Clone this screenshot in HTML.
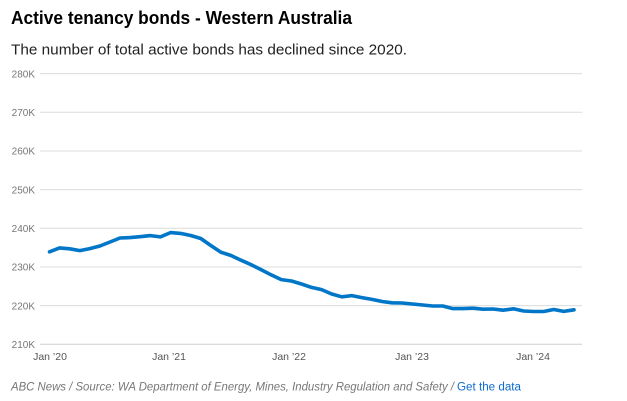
<!DOCTYPE html>
<html>
<head>
<meta charset="utf-8">
<style>
html,body{margin:0;padding:0;background:#fff;}
svg{display:block;}
text{font-family:"Liberation Sans",sans-serif;}
</style>
</head>
<body>
<svg width="627" height="401" viewBox="0 0 627 401" xmlns="http://www.w3.org/2000/svg">
<rect width="627" height="401" fill="#fff"/>
<text x="11" y="24" font-size="18" font-weight="bold" fill="#000" textLength="341" lengthAdjust="spacingAndGlyphs">Active tenancy bonds - Western Australia</text>
<text x="11" y="54.3" font-size="15" fill="#222" textLength="396" lengthAdjust="spacingAndGlyphs">The number of total active bonds has declined since 2020.</text>

<g stroke="#dcdcdc" stroke-width="1">
<line x1="40" y1="73.6" x2="582" y2="73.6"/>
<line x1="40" y1="112.3" x2="582" y2="112.3"/>
<line x1="40" y1="151" x2="582" y2="151"/>
<line x1="40" y1="189.6" x2="582" y2="189.6"/>
<line x1="40" y1="228.3" x2="582" y2="228.3"/>
<line x1="40" y1="267" x2="582" y2="267"/>
<line x1="40" y1="305.6" x2="582" y2="305.6"/>
<line x1="40" y1="344.3" x2="582" y2="344.3" stroke="#cfcfcf"/>
</g>
<g font-size="10" fill="#777" text-anchor="end">
<text x="35" y="77.3">280K</text>
<text x="35" y="116">270K</text>
<text x="35" y="154.7">260K</text>
<text x="35" y="193.3">250K</text>
<text x="35" y="232">240K</text>
<text x="35" y="270.7">230K</text>
<text x="35" y="309.3">220K</text>
<text x="35" y="348">210K</text>
</g>
<g font-size="10.5" fill="#555" text-anchor="middle">
<text x="50" y="360">Jan ’20</text>
<text x="169" y="360">Jan ’21</text>
<text x="289" y="360">Jan ’22</text>
<text x="412" y="360">Jan ’23</text>
<text x="533" y="360">Jan ’24</text>
</g>

<polyline fill="none" stroke="#0076c8" stroke-width="3.6" stroke-linejoin="round" stroke-linecap="round"
points="49.5,251.8 59.6,247.9 69.7,248.8 79.8,250.6 89.8,248.6 99.9,246 110,242 120,238 130,237.6 140,236.7 150.4,235.6 160.5,236.9 170.5,232.6 180.6,233.4 190.7,235.5 200.8,238.5 210.8,245.5 220.9,252.2 231,255.5 241,260.2 251,264.6 261,269.6 271,274.8 281.3,279.6 291.4,281 301.5,284 311.5,287.4 321.6,289.6 331.7,294 341.8,296.8 351.8,295.6 361.9,297.6 372,299.4 382,301.5 392,302.8 402,303 412.6,304 422.6,305 432.7,306 442.8,306 452.8,308.6 462.9,308.6 473,308.2 483,309.2 493,309 503,310.2 513.4,308.8 523.5,311 533.6,311.5 543.7,311.5 553.7,309.5 563.8,311.4 574,309.8"/>

<text x="11" y="390.5" font-size="11.5" font-style="italic" fill="#777" textLength="443" lengthAdjust="spacingAndGlyphs">ABC News / Source: WA Department of Energy, Mines, Industry Regulation and Safety /</text>
<text x="457" y="390.5" font-size="11.5" fill="#0a6bd0" textLength="64" lengthAdjust="spacingAndGlyphs">Get the data</text>
</svg>
</body>
</html>
